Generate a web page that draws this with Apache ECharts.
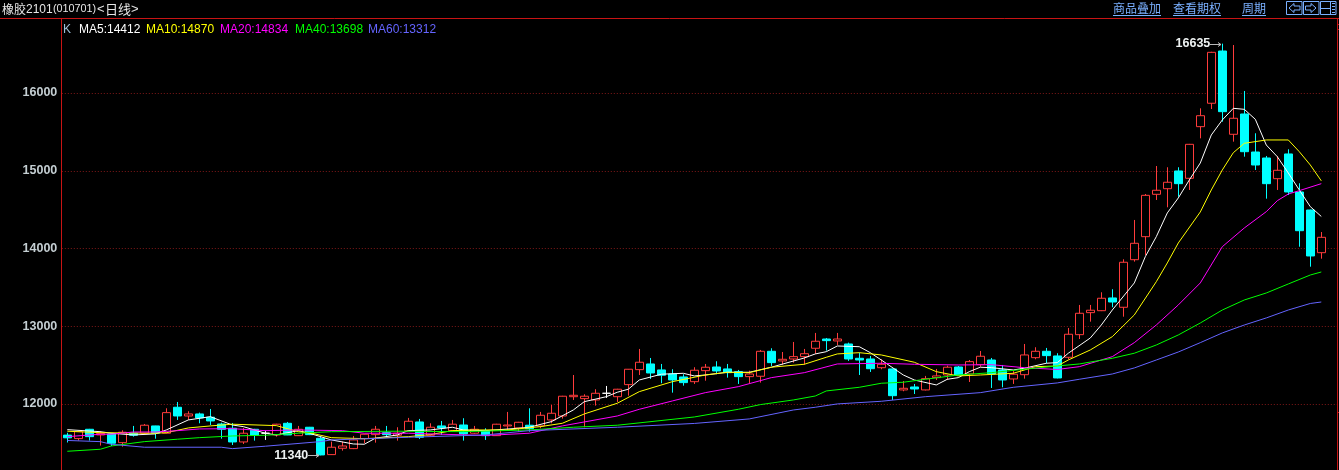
<!DOCTYPE html>
<html><head><meta charset="utf-8">
<style>html,body{margin:0;padding:0;background:#000}#c{width:1339px;height:470px}</style>
<script src="https://cdn.jsdelivr.net/npm/echarts@6/dist/echarts.min.js"></script>
</head><body><div id="c"></div>
<script>
const opens=[11600,11555,11675,11602,11615,11503,11624,11624,11718,11624,11958,11846,11872,11830,11743,11688,11512,11675,11624,11602,11752,11593,11701,11559,11349,11431,11426,11554,11606,11631,11598,11657,11769,11598,11718,11657,11730,11624,11653,11593,11718,11692,11727,11718,11795,11846,12094,12069,12052,12138,12094,12249,12442,12515,12438,12386,12348,12287,12429,12476,12451,12416,12352,12357,12678,12554,12579,12609,12717,12836,12811,12772,12588,12579,12467,12451,12181,12219,12181,12339,12373,12476,12386,12506,12566,12438,12322,12377,12596,12678,12618,12601,12892,13175,13200,13364,13244,13856,14152,14697,14769,14997,14903,15567,15868,16540,15469,15730,15241,15164,14898,15216,14727,14495,13946];
const closes=[11565,11645,11580,11621,11495,11637,11598,11727,11624,11889,11846,11872,11821,11782,11675,11512,11624,11598,11624,11740,11602,11675,11606,11345,11444,11460,11538,11611,11675,11606,11624,11778,11572,11701,11692,11740,11615,11675,11593,11740,11730,11765,11683,11855,11881,12100,12112,12100,12138,12138,12190,12447,12537,12399,12370,12309,12275,12434,12473,12425,12403,12352,12386,12678,12532,12575,12609,12647,12807,12815,12836,12579,12566,12454,12511,12107,12202,12193,12326,12361,12473,12373,12545,12614,12386,12309,12383,12631,12678,12622,12335,12897,13167,13206,13360,13312,13823,14067,14684,14749,14852,14834,15340,15708,16523,15760,15675,15245,15074,14834,15006,14727,14229,13904,14144];
const lows=[11505,11530,11530,11465,11460,11451,11580,11620,11554,11620,11795,11795,11752,11730,11554,11473,11486,11529,11538,11580,11600,11590,11600,11340,11345,11400,11420,11495,11503,11580,11529,11650,11550,11590,11602,11650,11529,11615,11538,11590,11657,11644,11644,11688,11752,11812,12052,11701,11979,12078,12026,12107,12373,12322,12267,12146,12236,12258,12300,12383,12339,12258,12267,12275,12489,12506,12532,12506,12644,12686,12759,12554,12373,12412,12447,12052,12164,12129,12175,12309,12309,12370,12283,12480,12206,12215,12258,12326,12575,12524,12330,12575,12836,13059,13195,13244,13123,13831,13917,14624,14530,14666,14753,15417,15794,15631,15374,15181,15010,14641,14753,14688,14023,13766,13869];
const highs=[11630,11650,11680,11653,11620,11662,11718,11743,11720,11945,12026,11907,11889,11936,11760,11756,11692,11680,11657,11745,11769,11718,11705,11580,11516,11516,11589,11615,11718,11718,11701,11821,11808,11752,11782,11795,11817,11718,11688,11745,11898,11770,11945,11898,11988,12105,12373,12125,12190,12232,12195,12450,12708,12592,12515,12447,12383,12473,12515,12550,12515,12438,12429,12695,12717,12669,12798,12708,12914,12849,12914,12789,12660,12618,12575,12455,12296,12258,12361,12451,12493,12489,12566,12682,12592,12502,12429,12772,12730,12721,12653,12978,13274,13274,13437,13476,13861,14367,14701,15061,15045,15045,15345,15803,16530,16635,16617,16026,15482,15190,15190,15276,14839,14500,14212];

const ma5=[[0,11670],[3,11644],[4,11624],[6,11602],[8,11615],[9,11666],[11,11795],[13,11837],[15,11730],[16,11709],[18,11624],[19,11602],[21,11657],[22,11624],[24,11538],[26,11486],[27,11482],[28,11560],[30,11602],[31,11657],[33,11666],[35,11701],[36,11666],[38,11657],[41,11688],[42,11701],[44,11773],[46,11923],[47,12030],[49,12094],[50,12151],[51,12190],[52,12309],[54,12383],[56,12395],[57,12361],[58,12373],[60,12408],[62,12408],[64,12473],[67,12592],[68,12644],[69,12673],[70,12746],[72,12737],[73,12660],[74,12566],[76,12373],[77,12309],[79,12245],[80,12318],[81,12339],[82,12416],[83,12473],[84,12467],[86,12438],[87,12460],[89,12524],[90,12532],[91,12653],[93,12849],[94,13016],[95,13209],[97,13557],[98,13895],[99,14152],[100,14457],[101,14650],[102,14881],[103,15100],[104,15460],[105,15653],[106,15803],[107,15790],[108,15662],[109,15331],[110,15181],[111,14971],[112,14753],[113,14538],[114,14412]];
const ma10=[[0,11650],[3,11631],[8,11624],[9,11631],[11,11692],[13,11718],[15,11740],[19,11722],[21,11644],[22,11631],[24,11567],[27,11554],[31,11580],[33,11606],[35,11657],[37,11666],[40,11666],[43,11709],[45,11752],[47,11872],[50,12010],[52,12159],[55,12287],[58,12373],[60,12408],[62,12403],[64,12473],[67,12511],[69,12601],[70,12644],[72,12660],[74,12631],[77,12537],[79,12416],[81,12361],[83,12373],[86,12395],[88,12480],[90,12489],[91,12566],[93,12695],[95,12866],[97,13145],[99,13573],[100,13814],[101,14071],[103,14470],[104,14753],[105,15010],[106,15232],[107,15353],[109,15396],[111,15396],[112,15245],[113,15074],[114,14870]];
const ma20=[[0,11580],[3,11611],[4,11611],[6,11640],[8,11640],[10,11657],[12,11679],[15,11683],[18,11657],[21,11666],[25,11657],[27,11624],[31,11624],[38,11595],[42,11624],[45,11718],[50,11846],[52,11932],[55,12039],[58,12146],[61,12223],[64,12339],[67,12403],[70,12515],[74,12524],[77,12511],[81,12502],[84,12506],[87,12467],[90,12444],[92,12480],[95,12609],[97,12789],[99,13016],[101,13274],[103,13557],[105,14023],[107,14264],[109,14474],[110,14615],[111,14701],[112,14744],[114,14834]];
const ma40=[[0,11392],[3,11418],[4,11460],[7,11516],[10,11547],[12,11567],[15,11589],[18,11598],[21,11624],[24,11644],[30,11650],[36,11644],[42,11666],[46,11701],[50,11727],[57,11833],[61,11932],[63,11992],[66,12052],[68,12103],[69,12168],[72,12215],[74,12267],[76,12280],[78,12318],[81,12373],[84,12403],[87,12447],[90,12489],[92,12515],[95,12588],[97,12653],[99,12759],[101,12888],[103,13042],[105,13209],[107,13338],[109,13428],[111,13544],[113,13659],[114,13698]];
const ma60=[[0,11531],[3,11516],[4,11482],[7,11444],[14,11444],[15,11426],[18,11457],[23,11516],[24,11538],[31,11572],[38,11602],[42,11657],[50,11701],[57,11750],[62,11808],[66,11923],[68,11958],[70,12001],[74,12035],[78,12094],[83,12146],[86,12215],[90,12271],[92,12318],[95,12386],[97,12464],[99,12566],[101,12669],[103,12789],[105,12914],[107,13016],[109,13107],[111,13209],[113,13293],[114,13312]];

const yMin=11000, yMax=17000, yStep=1000;
const maNames=['MA5','MA10','MA20','MA40','MA60'];
const maColors=['#ffffff','#ffff00','#ff00ff','#00ff00','#6464ff'];
const maLists=[ma5,ma10,ma20,ma40,ma60];
const maLegendX=[79,146,220,295,368];
const titleParts=[['橡胶',2,12],['2101',26,12],['(010701)',53,10.8],['<',97,13],['日线',105,13],['>',131,13]];
const links=[['商品叠加',1113],['查看期权',1173],['周期',1242]];
const peaks=[['16635',105,16635],['11340',23,11340]];

const cats=opens.map((_,i)=>String(i+1)); cats.push('');
const candle=opens.map((o,i)=>[o,closes[i],lows[i],highs[i]]);

const FONT='"Liberation Sans",Arial,sans-serif', CJK='"Noto Sans CJK SC",sans-serif';
const LINK='#7ab0ff', FRAME='#c81414';
const g=[];
const txt=(t,x,y,fill,size,family,weight)=>({type:'text',silent:true,z:50,x,y,style:{text:t,fill,fontSize:size,fontFamily:family||FONT,fontWeight:weight||'normal',textVerticalAlign:'middle'}});
const ln=(x1,y1,x2,y2,c)=>({type:'line',silent:true,z:40,shape:{x1,y1,x2,y2},style:{stroke:c,lineWidth:1}});
// frame
g.push(ln(0,18.5,1339,18.5,FRAME));
g.push(ln(61.5,18,61.5,470,FRAME));
g.push(ln(1337.5,18,1337.5,470,FRAME));
g.push(ln(1337,24.5,1339,24.5,FRAME),ln(1337,29.5,1339,29.5,FRAME),ln(1337,412.5,1339,412.5,FRAME));
// title
titleParts.forEach(p=>g.push(txt(p[0],p[1],9.5,'#e6e6e6',p[2],/[\u4e00-\u9fff]/.test(p[0])?CJK:FONT)));
// links
links.forEach(l=>{
  g.push(txt(l[0],l[1],8.5,LINK,12,CJK));
  g.push(ln(l[1],15.5,l[1]+l[0].length*12,15.5,LINK));
});
// buttons
[1286.5,1303.5,1320.5].forEach(x=>g.push({type:'rect',silent:true,z:40,shape:{x,y:1.5,width:15.5,height:13},style:{fill:'#000',stroke:LINK,lineWidth:1}}));
g.push({type:'polygon',silent:true,z:41,shape:{points:[[1289,8],[1294,3.5],[1294,6],[1300,6],[1300,10],[1294,10],[1294,12.5]]},style:{fill:'#000',stroke:LINK,lineWidth:1}});
g.push({type:'polygon',silent:true,z:41,shape:{points:[[1316,8],[1311,3.5],[1311,6],[1305.5,6],[1305.5,10],[1311,10],[1311,12.5]]},style:{fill:'#000',stroke:LINK,lineWidth:1}});
g.push(ln(1320.5,8.5,1330,8.5,LINK),ln(1330.5,2,1330.5,14,LINK));
[3.5,6.5,9.5,12.5].forEach(y=>g.push(ln(1332,y,1335,y,LINK)));
// legend row
g.push(txt('K',63,29.5,'#9dc0d8',12));
maNames.forEach((n,i)=>{
  const last=maLists[i][maLists[i].length-1][1];
  g.push(txt(n+':'+last,maLegendX[i],29.5,maColors[i],12));
});

const series=[{
  type:'candlestick',data:candle,barWidth:9,z:2,
  itemStyle:{color:'#000',color0:'#00ffff',borderColor:'#ff3c3c',borderColor0:'#00ffff',borderColorDoji:'#ffffff',borderWidth:1},
  markPoint:{
    symbol:'circle',symbolSize:0,animation:false,silent:true,
    data:peaks.map(p=>({coord:[p[1],p[2]],value:p[0]})),
    label:{show:true,position:'left',distance:12,
      formatter:p=>p.value,
      color:'#eef2f2',fontFamily:FONT,fontWeight:'bold',fontSize:12.5}
  }
}];
maNames.forEach((n,i)=>series.push({name:n,type:'line',data:maLists[i],symbol:'none',z:5,smooth:false,
  lineStyle:{color:maColors[i],width:1},emphasis:{disabled:true}}));

const chart=echarts.init(document.getElementById('c'),null,{renderer:'canvas'});
chart.setOption({
  animation:false,backgroundColor:'#000',
  grid:{left:61.8,top:15.25,width:1276,height:466.5,show:false,outerBoundsMode:'none',containLabel:false},
  tooltip:{show:false},
  xAxis:{type:'category',data:cats,boundaryGap:true,show:false},
  yAxis:{type:'value',min:yMin,max:yMax,interval:yStep,
    axisLine:{show:false},axisTick:{show:false},
    axisLabel:{color:'#c4ced2',fontFamily:FONT,fontWeight:'bold',fontSize:12.5,margin:4.5,showMinLabel:false,showMaxLabel:false,formatter:v=>String(v)},
    splitLine:{show:true,showMaxLine:false,showMinLine:false,lineStyle:{color:'#801818',type:[1,2],width:1}}},
  series
});
// arrows beside the high and low labels, placed through the chart's own scales
peaks.forEach(p=>{
  const pt=chart.convertToPixel({gridIndex:0},[p[1],p[2]]);
  const tip=Math.round(pt[0])-1, y=Math.round(pt[1])+0.5;
  g.push(ln(tip-11,y,tip,y,'#b8b8b8'),ln(tip-3,y-2,tip,y,'#b8b8b8'),ln(tip-3,y+2,tip,y,'#b8b8b8'));
});
chart.setOption({graphic:g});
</script></body></html>
